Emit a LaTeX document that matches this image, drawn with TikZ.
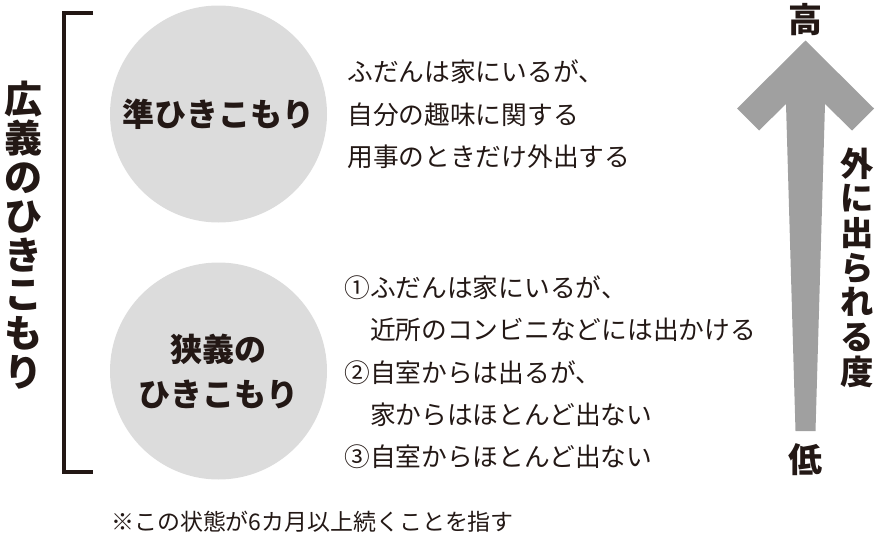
\documentclass[tikz,border=0pt]{standalone}
\usepackage{fontspec}
\setmainfont{Noto Sans CJK JP}
\definecolor{inkblack}{HTML}{231815}
\definecolor{bubblegray}{HTML}{DCDCDC}
\definecolor{arrowgray}{HTML}{A0A0A0}

\begin{document}
\begin{tikzpicture}[x=0.75pt, y=-0.75pt,
	every node/.style={text=inkblack, inner sep=0pt},
	bubble/.style={circle, fill=bubblegray, minimum size=162.75pt,
		font=\fontsize{24}{33.75}\selectfont\bfseries, align=center},
	desc/.style={font=\fontsize{19.3}{31.75}\selectfont, align=left, anchor=west},
	vtext/.style={align=center}]
			
			\useasboundingbox (0,0) rectangle (882,539);
			
			% bracket on the left
			\draw[inkblack, line width=3pt] (93,13) -| (64.3,472) -- (93,472);
			\node[vtext, font=\fontsize{28.5}{29.25}\selectfont\bfseries] (broad) at (23,235)
			{広\\義\\の\\ひ\\き\\こ\\も\\り};
			
			% the two kinds
			\node[bubble] (semi) at (218.5,114) {準ひきこもり};
			\node[bubble] (narrow) at (218.5,371) {狭義の\\ひきこもり};
			
			% descriptions
			\node[desc] (semidesc) at (347,114.5)
			{ふだんは家にいるが、\\自分の趣味に関する\\用事のときだけ外出する};
			\node[desc] (narrowdesc) at (344,372.5)
			{①ふだんは家にいるが、\\　近所のコンビニなどには出かける\\②自室からは出るが、\\　家からはほとんど出ない\\③自室からほとんど出ない};
			
			% big arrow
			\fill[arrowgray] (805.5,40.5) -- (874,108.5) -- (852,130.5) -- (825,104)
			-- (815.5,431) -- (795.5,431) -- (786,104) -- (759,130.5) -- (737,108.5) -- cycle;
			
			% arrow labels
			\node[font=\fontsize{25.5}{26}\selectfont\bfseries] (high) at (805.5,20) {高};
			\node[font=\fontsize{25.5}{26}\selectfont\bfseries] (low) at (805.5,460) {低};
			\node[vtext, font=\fontsize{25}{26}\selectfont\bfseries] (degree) at (857,267.5)
			{外\\に\\出\\ら\\れ\\る\\度};
			
			% note
			\node[font=\fontsize{17.2}{20}\selectfont, anchor=west] (note) at (111,522)
			{※この状態が6カ月以上続くことを指す};
			
		\end{tikzpicture}
\end{document}
